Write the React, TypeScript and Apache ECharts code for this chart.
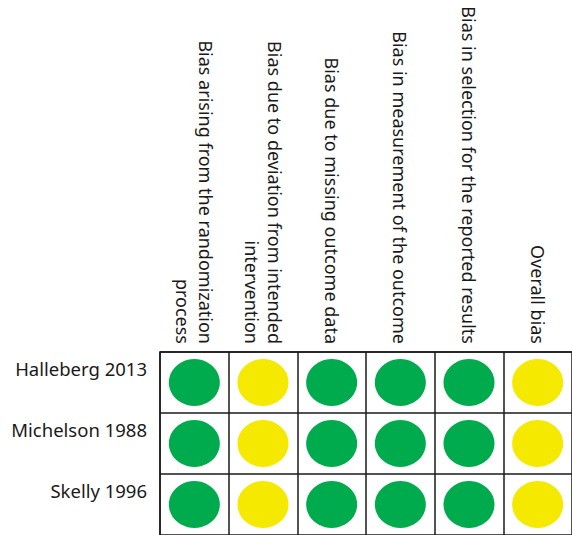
import React, { useEffect, useRef } from "react";
import * as echarts from "echarts";

const studies = ["Halleberg 2013", "Michelson 1988", "Skelly 1996"];
const domains = [
  "Bias arising from the randomization\nprocess",
  "Bias due to deviation from intended\nintervention",
  "Bias due to missing outcome data",
  "Bias in measurement of the outcome",
  "Bias in selection for the reported results",
  "Overall bias",
];
const hallebergRisk = ["Low", "Some concerns", "Low", "Low", "Low", "Some concerns"];
const michelsonRisk = ["Low", "Some concerns", "Low", "Low", "Low", "Some concerns"];
const skellyRisk = ["Low", "Some concerns", "Low", "Low", "Low", "Some concerns"];
const riskLevels = ["Low", "Some concerns"];
const riskColors = ["#00AB4E", "#F5E900"];

const FONT = "Noto Sans";

export default function App() {
  const ref = useRef<HTMLDivElement>(null);
  useEffect(() => {
    if (!ref.current) return;
    const chart = echarts.init(ref.current, undefined, { renderer: "svg" });
    const table = [hallebergRisk, michelsonRisk, skellyRisk];
    const series = riskLevels.map((level, li) => {
      const data: number[][] = [];
      table.forEach((row, si) => {
        row.forEach((r, di) => {
          if (r === level) data.push([di, si]);
        });
      });
      return {
        type: "scatter",
        name: level,
        data,
        symbol: "circle",
        symbolSize: [51, 47],
        itemStyle: { color: riskColors[li], opacity: 1 },
        z: 3,
      };
    });
    const lineStyle = { color: "#1a1a1a", width: 1.5 };
    chart.setOption({
      animation: false,
      backgroundColor: "#ffffff",
      textStyle: { fontFamily: FONT },
      grid: { left: 160, top: 352, width: 420, height: 186, containLabel: false },
      xAxis: {
        type: "category",
        position: "top",
        data: domains,
        boundaryGap: true,
        axisTick: { show: false },
        axisLine: { show: true, lineStyle },
        splitLine: { show: true, interval: 0, lineStyle },
        axisLabel: {
          interval: 0,
          rotate: 90,
          margin: 8,
          fontSize: 18,
          lineHeight: 23,
          color: "#1a1a1a",
          fontFamily: FONT,
        },
      },
      yAxis: {
        type: "category",
        inverse: true,
        data: studies,
        boundaryGap: true,
        axisTick: { show: false },
        axisLine: { show: true, lineStyle },
        splitLine: { show: true, interval: 0, lineStyle },
        axisLabel: {
          interval: 0,
          margin: 13,
          fontSize: 18.5,
          lineHeight: 28,
          color: "#1a1a1a",
          fontFamily: FONT,
          verticalAlign: "bottom",
        },
      },
      series,
    });
    return () => chart.dispose();
  }, []);
  return (
    <div
      ref={ref}
      style={{ position: "absolute", left: 0, top: 0, width: 572, height: 535 }}
    />
  );
}
